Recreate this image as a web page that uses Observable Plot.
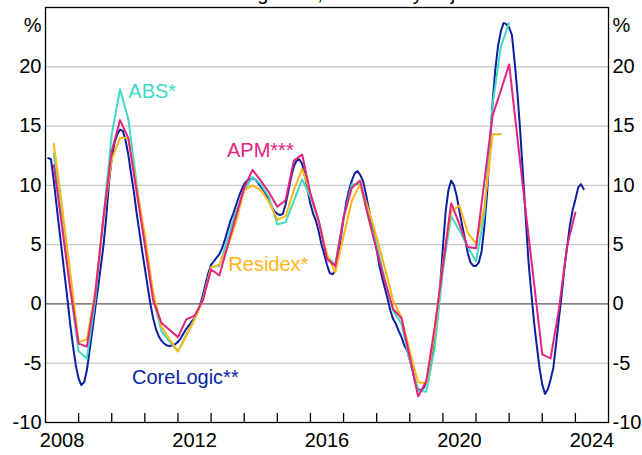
<!DOCTYPE html>
<html><head><meta charset="utf-8">
<script src="https://cdn.jsdelivr.net/npm/d3@7"></script>
<script src="https://cdn.jsdelivr.net/npm/@observablehq/plot@0.6"></script>
<style>
body{margin:0;background:#fff;position:relative;width:642px;height:455px;overflow:hidden;font-family:"Liberation Sans",Arial,sans-serif}
#title{position:absolute;left:45px;top:-17px;width:563px;text-align:center;font-size:20px;line-height:20px;white-space:nowrap;color:#000}
</style></head><body><div id="chart"></div><div id="title">Year-ended growth, seasonally adjusted</div>
<script>
// ---- data (year-ended growth, %) ----
// Quarterly series, first value = March quarter 2008
const absValues = [12.7, 7.0, 1.2, -4.0, -4.6, 0.3, 7.3, 14.3, 18.1, 15.6, 10.2, 5.0, 0.5, -2.3, -3.2, -4.0,
  -2.6, -1.3, 0.4, 3.1, 3.2, 5.5, 7.8, 9.6, 10.7, 10.1, 9.0, 6.7, 6.9, 8.7, 10.5, 9.0,
  7.0, 4.0, 3.3, 7.3, 10.1, 10.1, 7.3, 5.0, 2.0, -0.6, -1.7, -4.8, -7.3, -7.4, -3.7, 2.9,
  7.4, 6.2, 4.8, 3.6, 7.5, 16.8, 21.7, 23.7];
const apmValues = [11.7, 6.5, 1.2, -3.35, -3.6, 0.8, 7.3, 12.9, 15.5, 14.0, 9.5, 5.0, 0.3, -1.6, -2.2, -2.8,
  -1.3, -1.0, 0.3, 2.9, 2.4, 4.9, 7.4, 9.8, 11.3, 10.4, 9.4, 8.2, 8.75, 12.1, 12.6, 9.3,
  7.0, 3.8, 3.2, 7.3, 9.8, 10.4, 7.3, 4.5, 1.9, -0.45, -1.2, -4.5, -7.8, -6.5, -2.0, 3.2,
  8.5, 6.7, 4.8, 4.7, 10.3, 15.9, 18.0, 20.2, 14.0, 7.8, 1.8, -4.25, -4.6, -0.5, 4.9, 7.7];
const residexValues = [13.5, 8.2, 2.6, -3.2, -3.0, 1.0, 7.2, 12.2, 14.0, 14.0, 9.9, 5.8, 1.0, -1.9, -3.0, -4.0,
  -2.7, -1.3, 0.3, 3.1, 3.3, 4.8, 6.9, 9.6, 10.0, 9.6, 8.6, 7.1, 7.4, 9.6, 11.4, 9.3,
  7.0, 4.2, 2.65, 5.7, 8.7, 10.1, 8.0, 5.6, 3.0, 0.25, -1.15, -4.0, -6.6, -6.7, -2.5, 3.5,
  7.8, 8.3, 6.0, 5.1, 8.1, 14.3, 14.3];
// Monthly series, first value = January 2008
const coreLogicValues = [
  12.3, 12.2, 10.4, 8.3, 6.3, 4.3, 2.3, 0.3, -1.8, -3.6, -5.2, -6.3,
  -6.85, -6.6, -5.6, -3.9, -2.2, -0.4, 1.3, 3.1, 4.9, 7.3, 10.2, 12.3,
  13.6, 14.3, 14.7, 14.6, 13.8, 12.6, 11.0, 9.5, 7.7, 6.1, 4.5, 3.0,
  1.5, 0.0, -1.2, -2.1, -2.7, -3.1, -3.35, -3.5, -3.55, -3.5, -3.4, -3.2,
  -2.9, -2.5, -2.1, -1.8, -1.5, -1.2, -0.7, -0.1, 0.7, 1.7, 2.6, 3.3,
  3.6, 3.9, 4.2, 4.7, 5.4, 6.2, 7.0, 7.6, 8.3, 9.0, 9.6, 10.1,
  10.4, 10.5, 10.6, 10.5, 10.2, 9.9, 9.6, 9.2, 8.7, 8.2, 7.8, 7.6,
  7.5, 7.6, 8.4, 9.5, 10.7, 11.6, 12.1, 12.2, 11.8, 10.8, 9.6, 8.4,
  7.6, 7.0, 6.1, 5.0, 4.2, 3.3, 2.6, 2.5, 2.8, 4.0, 5.6, 7.2,
  8.6, 9.6, 10.4, 11.0, 11.2, 10.9, 10.4, 9.4, 8.2, 7.0, 5.9, 4.6,
  3.2, 2.2, 1.3, 0.4, -0.6, -1.3, -1.7, -2.3, -2.8, -3.5, -3.9, -4.7,
  -5.6, -6.6, -7.2, -7.3, -7.1, -6.6, -5.6, -4.5, -3.2, -1.2, 1.5, 4.8,
  7.8, 9.6, 10.4, 10.0, 9.1, 7.8, 6.6, 5.5, 4.3, 3.5, 3.2, 3.2,
  3.5, 4.4, 6.5, 9.3, 13.2, 17.0, 19.8, 21.8, 23.0, 23.7, 23.6, 23.3,
  22.7, 20.4, 17.8, 14.6, 11.0, 7.3, 3.6, 1.0, -1.5, -3.5, -5.4, -6.8,
  -7.6, -7.2, -6.4, -5.4, -3.4, -1.3, 0.7, 3.0, 4.8, 6.6, 7.9, 8.8,
  9.8, 10.1, 9.7];

const yTicks = [-10, -5, 0, 5, 10, 15, 20];
const gridValues = [-5, 5, 10, 15, 20];
const yearTicks = d3.range(2009, 2025);
const xLabels = ["2008", "2012", "2016", "2020", "2024"];
const seriesNames = ["CoreLogic**", "ABS*", "Residex*", "APM***"];

// ---- styles / annotation positions ----
const colors = {"CoreLogic**": "#0b1fa0", "ABS*": "#40d9c6", "Residex*": "#ffb612", "APM***": "#e3237f"};
const labelPos = {"ABS*": [2010.5, 17.9], "APM***": [2013.48, 12.9], "Residex*": [2013.52, 3.3], "CoreLogic**": [2010.61, -6.2]};

const quarterly = (vals) => vals.map((v, i) => ({date: 2008.25 + 0.25 * i, value: v}));
const monthly = (vals) => vals.map((v, i) => ({date: 2008 + (i + 1) / 12, value: v}));
const seriesData = {
  "CoreLogic**": monthly(coreLogicValues),
  "ABS*": quarterly(absValues),
  "Residex*": quarterly(residexValues),
  "APM***": quarterly(apmValues)
};

const font = '"Liberation Sans", Arial, sans-serif';
const chart = Plot.plot({
  width: 642, height: 455,
  marginLeft: 45, marginRight: 34, marginTop: 7, marginBottom: 33,
  style: {fontFamily: font, fontSize: "20px", color: "#000", background: "#fff"},
  x: {domain: [2008, 2025]},
  y: {domain: [-10, 25]},
  marks: [
    Plot.ruleY(gridValues, {stroke: "#c6c6c6", strokeWidth: 1.3}),
    Plot.ruleY([0], {stroke: "#5a5a5a", strokeWidth: 1.3}),
    Plot.axisY({anchor: "left", ticks: yTicks, tickSize: 0, tickPadding: 4, tickFormat: d => String(d), label: null}),
    Plot.axisY({anchor: "right", ticks: yTicks, tickSize: 0, tickPadding: 4, tickFormat: d => String(d), label: null}),
    Plot.axisX({ticks: yearTicks, tickSize: -9, tickFormat: () => "", label: null, strokeWidth: 1.3}),
    Plot.axisX({ticks: xLabels.map(s => +s + 0.5), tickSize: 0, tickPadding: 10, tickFormat: (d, i) => xLabels[i], label: null}),
    ...seriesNames.map(name => Plot.line(seriesData[name], {x: "date", y: "value", stroke: colors[name], strokeWidth: 2})),
    ...seriesNames.map(name => Plot.text([name], {x: () => labelPos[name][0], y: () => labelPos[name][1], text: d => d, fill: colors[name], textAnchor: "start", fontSize: 20})),
    Plot.frame({stroke: "#000", strokeWidth: 1.3}),
    Plot.text(["%"], {text: d => d, frameAnchor: "top-left", dx: -4, dy: 10, textAnchor: "end"}),
    Plot.text(["%"], {text: d => d, frameAnchor: "top-right", dx: 4, dy: 10, textAnchor: "start"})
  ]
});
document.getElementById("chart").appendChild(chart);
</script></body></html>
